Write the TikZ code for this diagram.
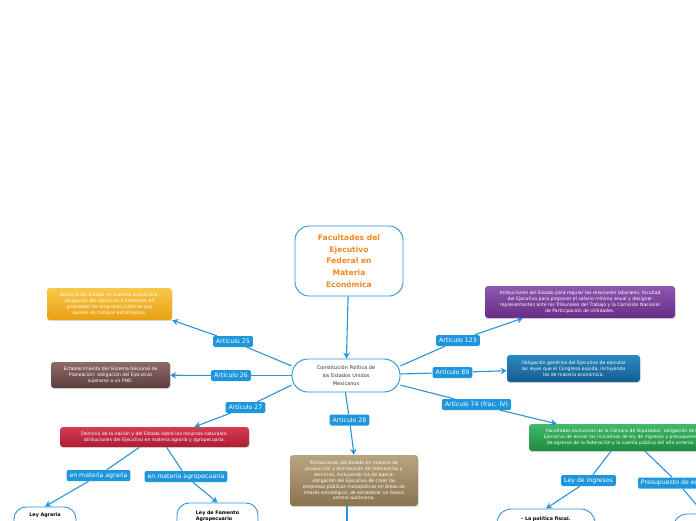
\documentclass[tikz,border=0pt]{standalone}
\usepackage{fontspec}
\setmainfont{DejaVu Sans}
\usetikzlibrary{arrows.meta,shadows}
\definecolor{linecol}{HTML}{2A93DA}
\definecolor{labfill}{HTML}{1E96DC}
\definecolor{orangetxt}{HTML}{F28A1E}
\definecolor{darktxt}{HTML}{333333}
\definecolor{yelT}{HTML}{F8C84A}\definecolor{yelB}{HTML}{E9A012}
\definecolor{brnT}{HTML}{8E6A6A}\definecolor{brnB}{HTML}{5E3E3E}
\definecolor{redT}{HTML}{D63C52}\definecolor{redB}{HTML}{AE1C34}
\definecolor{tanT}{HTML}{B8A47E}\definecolor{tanB}{HTML}{8A7450}
\definecolor{purT}{HTML}{9058B0}\definecolor{purB}{HTML}{682C86}
\definecolor{bluT}{HTML}{2C88C2}\definecolor{bluB}{HTML}{135E92}
\definecolor{grnT}{HTML}{40BA68}\definecolor{grnB}{HTML}{1F8A40}
\begin{document}
\begin{tikzpicture}[x=1pt,y=-1pt,
  topic/.style={draw=linecol, line width=0.9pt, fill=white, rounded corners=14pt, align=center, inner sep=0pt},
  infobox/.style={rounded corners=3pt, align=center, text=white, font=\fontsize{4.6}{5.9}\selectfont, inner sep=0pt,
    drop shadow={opacity=0.25, shadow xshift=0.6pt, shadow yshift=-1.2pt}},
  lab/.style={fill=labfill, rounded corners=1.5pt, text=white, font=\fontsize{6.2}{7}\selectfont, inner xsep=3pt, inner ysep=0pt, minimum height=11pt},
  conn/.style={draw=linecol, line width=1.1pt},
  arr/.style={conn, -{Stealth[length=6pt,width=6.5pt]}}]
\useasboundingbox (0,0) rectangle (696,520);
\clip (0,0) rectangle (696,520);

% main topics
\node[topic, minimum width=108pt, minimum height=70pt, text=orangetxt, font=\bfseries\fontsize{7.6}{11.6}\selectfont] (title) at (349,261)
  {Facultades del\\Ejecutivo\\Federal en\\Materia\\Económica};
\node[topic, rounded corners=16pt, minimum width=108pt, minimum height=33pt, text=darktxt, font=\fontsize{5}{8.2}\selectfont] (center) at (346,375.5)
  {Constitución Política de\\los Estados Unidos\\Mexicanos};

% info boxes
\node[infobox, top color=yelT, bottom color=yelB, minimum width=125pt, minimum height=32pt] (yellow) at (109.5,304)
  {Rectoría del Estado en materia económica:\\obligación del ejecutivo a mantener en\\propiedad las empresas públicas que\\operen en campos estratégicos.};
\node[infobox, top color=brnT, bottom color=brnB, minimum width=119pt, minimum height=26pt] (brown) at (110.5,375)
  {Establecimiento del Sistema Nacional de\\Planeación: obligación del Ejecutivo\\sujetarse a un PND.};
\node[infobox, top color=redT, bottom color=redB, minimum width=189pt, minimum height=20pt] (red) at (154.5,437)
  {Dominio de la nación y del Estado sobre los recursos naturales:\\atribuciones del Ejecutivo en materia agraria y agropecuaria.};
\node[infobox, top color=tanT, bottom color=tanB, minimum width=128pt, minimum height=51pt] (tan) at (354,480.5)
  {Atribuciones del Estado en materia de\\producción y distribución de mercancías y\\servicios, incluyendo los de banca:\\obligación del Ejecutivo de crear las\\empresas públicas monopólicas en áreas de\\interés estratégico, de establecer un banco\\central autónomo.};
\node[infobox, top color=purT, bottom color=purB, minimum width=190pt, minimum height=32pt] (purple) at (580,302)
  {Atribuciones del Estado para regular las relaciones laborales, facultad\\del Ejecutivo para proponer el salario mínimo anual y designar\\representantes ante los Tribunales del Trabajo y la Comisión Nacional\\de Participación de Utilidades.};
\node[infobox, top color=bluT, bottom color=bluB, minimum width=133pt, minimum height=27pt] (blue) at (573.5,368.5)
  {Obligación genérica del Ejecutivo de ejecutar\\las leyes que el Congreso expida, incluyendo\\las de materia económica.};
\node[infobox, top color=grnT, bottom color=grnB, minimum width=184pt, minimum height=27pt] (green) at (621,437.5)
  {Facultades exclusivas de la Cámara de Diputados: obligación del\\Ejecutivo de enviar las iniciativas de ley de ingresos y presupuesto\\de egresos de la federación y la cuenta pública del año anterior.};

% lower topics
\node[topic, rounded corners=12pt, minimum width=62pt, minimum height=36pt, font=\bfseries\fontsize{4.8}{6}\selectfont] (agraria) at (45,525) {Ley Agraria\\[14pt]};
\node[topic, rounded corners=12pt, minimum width=81pt, minimum height=40pt, font=\bfseries\fontsize{4.8}{6}\selectfont, align=left] (fomento) at (217.5,523) {Ley de Fomento\\Agropecuario\\[8pt]};
\node[topic, rounded corners=14pt, minimum width=98pt, minimum height=42pt, font=\bfseries\fontsize{4.8}{6}\selectfont] (fiscal) at (546,530) {- La política fiscal.\\[16pt]};
\node[topic, rounded corners=14pt, minimum width=98pt, minimum height=42pt] (egresos) at (722,535) {};
\coordinate (tanout) at (347,530);

% labels
\node[lab] (a25) at (233,341.5) {Artículo 25};
\node[lab] (a26) at (231,375.5) {Artículo 26};
\node[lab] (a27) at (245.5,407.5) {Artículo 27};
\node[lab] (a28) at (349.5,420) {Artículo 28};
\node[lab] (a123) at (458,340.5) {Artículo 123};
\node[lab] (a89) at (452.5,372.5) {Artículo 89};
\node[lab] (a74) at (476.5,404.5) {Artículo 74 (frac. IV)};
\node[lab] (lagr) at (98.5,475.5) {en materia agraria};
\node[lab] (lagp) at (186,476.5) {en materia agropecuaria};
\node[lab] (ling) at (588.5,480.5) {Ley de ingresos};
\node[lab] (lpre) at (678,483) {Presupuesto de egresos};

% connectors
\draw[arr] (title) -- (center);
\draw[conn] (center.170) -- (a25); \draw[arr] (a25) -- (yellow.south east);
\draw[conn] (center) -- (a26); \draw[arr] (a26) -- (brown);
\draw[conn] (center.190) -- (a27); \draw[arr] (a27) -- ([xshift=40pt]red.north);
\draw[conn] (center.268) -- (a28); \draw[arr] (a28) -- (tan.north);
\draw[conn] (center.10) -- (a123); \draw[arr] (a123) -- ([xshift=38pt]purple.south west);
\draw[conn] (center) -- (a89); \draw[arr] (a89) -- (blue);
\draw[conn] (center.350) -- (a74); \draw[arr] (a74) -- ([xshift=28pt]green.north west);
\draw[conn] (red.south) ++(-15,0) coordinate (rs1) -- (lagr); \draw[arr] (lagr) -- (agraria.north);
\draw[conn] (red.south) ++(12,0) coordinate (rs2) -- (lagp); \draw[arr] (lagp) -- (fomento.north);
\draw[conn] (green.south) ++(-10,0) coordinate (gs1) -- (ling); \draw[arr] (ling) -- (fiscal.north);
\draw[conn] (green.south) ++(24,0) coordinate (gs2) -- (lpre); \draw[arr] (lpre) -- (egresos);
\draw[conn] (tan.south) ++(-7,0) coordinate (ts) -- (tanout);
\end{tikzpicture}
\end{document}
